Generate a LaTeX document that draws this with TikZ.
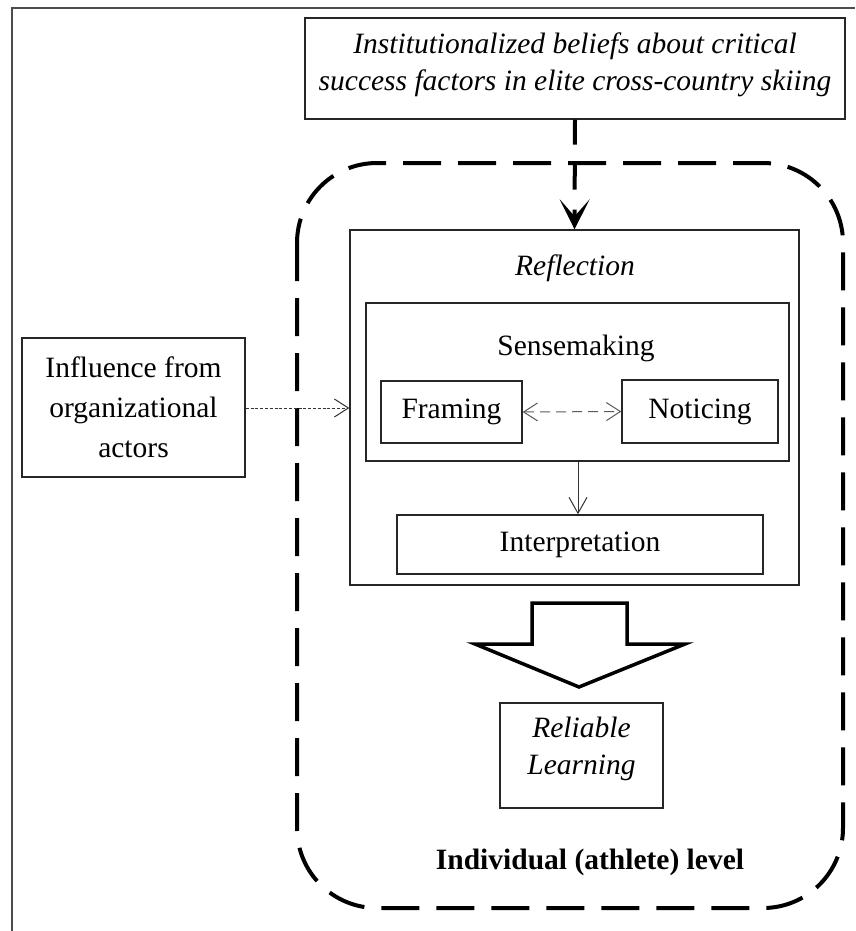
\documentclass[tikz,border=0pt]{standalone}
\usepackage{fontspec}
\setmainfont{Liberation Serif}
\usetikzlibrary{arrows.meta}

\tikzset{
  openbarb/.tip={Straight Barb[length=14pt, width=18pt, line width=1pt]},
  downbarb/.tip={Straight Barb[length=16pt, width=18pt, line width=1pt]}
}

\begin{document}
\begin{tikzpicture}[x=1pt,y=-1pt,
  box/.style={draw=black!85, line width=1.4pt, inner sep=0pt},
  txt/.style={font=\fontsize{29.5}{37}\selectfont, align=center, inner sep=0pt},
  thinarrow/.style={draw=black!80, line width=1pt}
]
\useasboundingbox (0,0) rectangle (855,931);

% page frame (left and top edges)
\draw[black!70, line width=1.8pt] (12,931) -- (12,8) -- (855,8);

% institutional beliefs
\node[box, minimum width=540pt, minimum height=101pt] (inst) at (575,68.5) {};
\node[txt, font=\fontsize{29.5}{37}\selectfont\itshape] (insttxt) at (575,64.5)
  {Institutionalized beliefs about critical\\success factors in elite cross-country skiing};

% individual level region
\draw[line width=4pt, dash pattern=on 38pt off 17pt, rounded corners=80pt]
  (297,163) rectangle (843,908);
\node[txt, font=\fontsize{29.5}{37}\selectfont\bfseries] (level) at (590,862)
  {Individual (athlete) level};

% reflection
\node[box, minimum width=449pt, minimum height=355pt] (refl) at (574.5,407.5) {};
\node[txt, font=\fontsize{29.5}{37}\selectfont\itshape] (refltxt) at (575,268) {Reflection};

% sensemaking
\node[box, minimum width=423pt, minimum height=158pt] (sense) at (577.5,382) {};
\node[txt] (sensetxt) at (576,348) {Sensemaking};
\node[box, txt, draw=black!85, line width=1.4pt, minimum width=141pt, minimum height=62pt] (fram) at (451.5,412) {Framing};
\node[box, txt, draw=black!85, line width=1.4pt, minimum width=156pt, minimum height=63pt] (noti) at (700,411.5) {Noticing};

% interpretation
\node[box, txt, draw=black!85, line width=1.4pt, minimum width=366pt, minimum height=59pt] (interp) at (580,544.5) {Interpretation};

% influence from organizational actors
\node[box, txt, draw=black!85, line width=1.4pt, minimum width=223pt, minimum height=139pt,
  font=\fontsize{29.5}{40}\selectfont] (infl) at (133.5,407.5) {Influence from\\organizational\\actors};

% reliable learning
\node[box, minimum width=163pt, minimum height=105pt] (rel) at (581.5,755.5) {};
\node[txt, font=\fontsize{29.5}{37}\selectfont\itshape] (reltxt) at (581.5,749) {Reliable\\Learning};

% connectors
\draw[line width=4pt, dash pattern=on 25pt off 20pt,
  -{Stealth[length=30pt, width=30pt, inset=17pt]}] (inst.south) -- (refl.north);
\draw[thinarrow, dash pattern=on 3pt off 1.8pt, -openbarb] (infl.east |- 0,408) -- (refl.west |- 0,408);
\draw[thinarrow, draw=black!65, dash pattern=on 10pt off 6pt, openbarb-openbarb] (fram.east) -- (noti.west);
\draw[thinarrow, -downbarb] (sense.south -| 578,0) -- (interp.north -| 578,0);

% block arrow towards reliable learning
\draw[line width=3.5pt, line join=miter, fill=white]
  (532,603) -- (627,603) -- (627,644) -- (685,644) -- (579,687) -- (475,644) -- (532,644) -- cycle;
\end{tikzpicture}
\end{document}
